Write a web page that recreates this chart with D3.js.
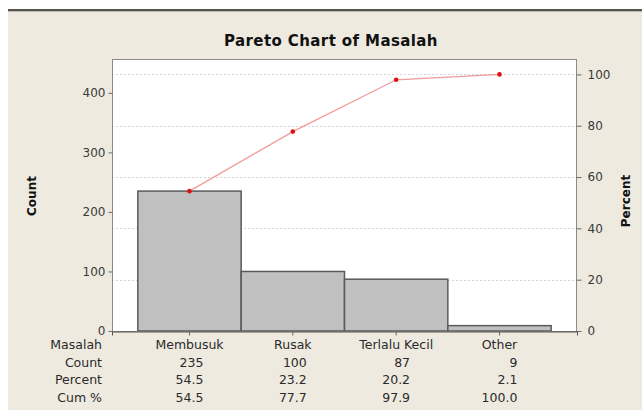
<!DOCTYPE html>
<html>
<head>
<meta charset="utf-8">
<script src="https://cdn.jsdelivr.net/npm/d3@7/dist/d3.min.js"></script>
<style>
  html, body { margin: 0; padding: 0; background: #ffffff; }
  svg { display: block; }
  text { font-family: "DejaVu Sans", Verdana, sans-serif; }
</style>
</head>
<body>
<svg id="chart" width="642" height="410"></svg>
<script>
// ---- data ----
const categories = ["Membusuk", "Rusak", "Terlalu Kecil", "Other"];
const counts = [235, 100, 87, 9];
const percents = ["54.5", "23.2", "20.2", "2.1"];
const cumPercents = ["54.5", "77.7", "97.9", "100.0"];
const cumValues = [54.5, 77.7, 97.9, 100.0];
const countTicks = [0, 100, 200, 300, 400];
const percentTicks = [0, 20, 40, 60, 80, 100];
const rowLabels = ["Masalah", "Count", "Percent", "Cum %"];
const title = "Pareto Chart of Masalah";

const total = d3.sum(counts);

const svg = d3.select("#chart");
const W = 642, H = 410;

// background panel
svg.append("rect").attr("x", 0).attr("y", 0).attr("width", W).attr("height", H).attr("fill", "#ffffff");
svg.append("rect").attr("x", 8).attr("y", 9).attr("width", W - 8).attr("height", H - 9).attr("fill", "#eeeae0");
svg.append("line").attr("x1", 8).attr("x2", W).attr("y1", 10).attr("y2", 10)
  .attr("stroke", "#55554d").attr("stroke-width", 2);
svg.append("line").attr("x1", 8).attr("x2", W).attr("y1", 11.5).attr("y2", 11.5)
  .attr("stroke", "#bdbab0").attr("stroke-width", 1);

const plot = { left: 112, right: 577, top: 59, bottom: 331 };

const x = d3.scaleBand().domain(categories)
  .range([plot.left, plot.right]).paddingInner(0).paddingOuter(0.25);
const yMax = total * 1.06;
const y = d3.scaleLinear().domain([0, yMax]).range([plot.bottom, plot.top]);
const yP = d3.scaleLinear().domain([0, yMax / total * 100]).range([plot.bottom, plot.top]);

// plot area
svg.append("rect").attr("x", plot.left).attr("y", plot.top)
  .attr("width", plot.right - plot.left).attr("height", plot.bottom - plot.top)
  .attr("fill", "#ffffff");

// gridlines at percent ticks
svg.append("g").selectAll("line").data(percentTicks.filter(d => d > 0)).join("line")
  .attr("x1", plot.left).attr("x2", plot.right)
  .attr("y1", d => Math.round(yP(d)) + 0.5).attr("y2", d => Math.round(yP(d)) + 0.5)
  .attr("stroke", "#d4d4d4").attr("stroke-width", 1).attr("stroke-dasharray", "2,2");

// bars
svg.append("g").selectAll("rect").data(counts).join("rect")
  .attr("x", (d, i) => x(categories[i]))
  .attr("y", d => y(d))
  .attr("width", x.bandwidth())
  .attr("height", d => y(0) - y(d))
  .attr("fill", "#c0c0c0")
  .attr("stroke", "#5a5a5a")
  .attr("stroke-width", 1.5);

// cumulative line
const line = d3.line().x((d, i) => x(categories[i]) + x.bandwidth() / 2).y(d => yP(d));
svg.append("path").datum(cumValues).attr("d", line)
  .attr("fill", "none").attr("stroke", "#f29a9a").attr("stroke-width", 1.3);
svg.append("g").selectAll("circle").data(cumValues).join("circle")
  .attr("cx", (d, i) => x(categories[i]) + x.bandwidth() / 2)
  .attr("cy", d => yP(d))
  .attr("r", 2.3)
  .attr("fill", "#dd1111");

// plot border
svg.append("rect").attr("x", plot.left + 0.5).attr("y", plot.top + 0.5)
  .attr("width", plot.right - plot.left - 1).attr("height", plot.bottom - plot.top)
  .attr("fill", "none").attr("stroke", "#8a8a8a").attr("stroke-width", 1);

// axes
const leftAxis = d3.axisLeft(y).tickValues(countTicks).tickSize(4).tickPadding(3);
const gl = svg.append("g").attr("transform", `translate(${plot.left + 0.5},0)`).call(leftAxis);
const rightAxis = d3.axisRight(yP).tickValues(percentTicks).tickSize(5).tickPadding(6);
const gr = svg.append("g").attr("transform", `translate(${plot.right - 0.5},0)`).call(rightAxis);
const bottomAxis = d3.axisBottom(x).tickSize(4).tickFormat("");
const gb = svg.append("g").attr("transform", `translate(0,${plot.bottom + 0.5})`).call(bottomAxis);
[gl, gr, gb].forEach(g => {
  g.select(".domain").attr("stroke", "#8a8a8a");
  g.selectAll(".tick line").attr("stroke", "#6a6a6a");
  g.selectAll(".tick text").attr("fill", "#3a3a3a")
    .style("font-family", '"DejaVu Sans", Verdana, sans-serif').style("font-size", "12px");
});
gb.select(".domain").attr("stroke", "#555555");
gl.select(".domain").remove();
gr.select(".domain").remove();

// title
svg.append("text").attr("x", 331).attr("y", 46).attr("text-anchor", "middle")
  .style("font-size", "15px").style("font-weight", "bold").style("letter-spacing", "0.4px")
  .attr("fill", "#111").text(title);

// axis titles
svg.append("text").attr("transform", "translate(36,196) rotate(-90)")
  .attr("text-anchor", "middle").style("font-size", "12px").style("font-weight", "bold")
  .attr("fill", "#111").text("Count");
svg.append("text").attr("transform", "translate(630,201) rotate(-90)")
  .attr("text-anchor", "middle").style("font-size", "12px").style("font-weight", "bold")
  .attr("fill", "#111").text("Percent");

// table below
const rowY = [349, 366.5, 384, 401.5];
const tbl = svg.append("g").style("font-size", "12.5px").attr("fill", "#2a2a2a");
tbl.selectAll("text.rl").data(rowLabels).join("text").attr("class", "rl")
  .attr("x", 102).attr("y", (d, i) => rowY[i]).attr("text-anchor", "end").text(d => d);

tbl.selectAll("text.cat").data(categories).join("text").attr("class", "cat")
  .attr("x", d => x(d) + x.bandwidth() / 2).attr("y", rowY[0])
  .attr("text-anchor", "middle").text(d => d);

categories.forEach((c, i) => {
  const vals = [String(counts[i]), percents[i], cumPercents[i]];
  const cx = x(c) + x.bandwidth() / 2;
  const nodes = vals.map((v, j) => tbl.append("text").attr("y", rowY[j + 1])
    .attr("text-anchor", "end").text(v));
  const maxW = d3.max(nodes, n => n.node().getComputedTextLength());
  nodes.forEach(n => n.attr("x", cx + maxW / 2));
});
</script>
</body>
</html>
